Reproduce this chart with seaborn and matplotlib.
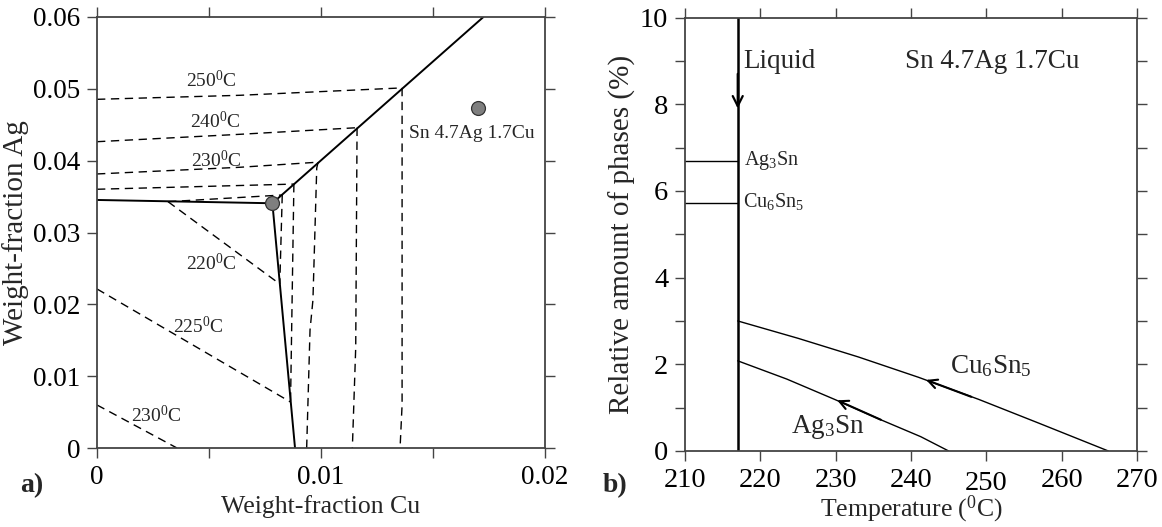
import matplotlib
matplotlib.use("Agg")
import matplotlib.pyplot as plt
import matplotlib.transforms as mtransforms
import seaborn as sns

# ---------------- Panel a: liquidus projection (weight fractions) ----------------
# phase-field boundaries
sn_ag3sn_cu = [0.0, 0.00783]
sn_ag3sn_ag = [0.03453, 0.03407]
sn_cu6sn5_cu = [0.00783, 0.00884]
sn_cu6sn5_ag = [0.03407, 0.0]
ag3sn_cu6sn5_cu = [0.00783, 0.01725]
ag3sn_cu6sn5_ag = [0.03407, 0.0600]

# isotherms in the Ag3Sn primary field
iso250_ag3sn_cu = [0.0, 0.00638, 0.01362]
iso250_ag3sn_ag = [0.04854, 0.04910, 0.05013]
iso240_ag3sn_cu = [0.0, 0.00638, 0.01161]
iso240_ag3sn_ag = [0.04264, 0.04367, 0.04459]
iso230_ag3sn_cu = [0.0, 0.00638, 0.00987]
iso230_ag3sn_ag = [0.03815, 0.03908, 0.03979]
iso225_ag3sn_cu = [0.0, 0.00879]
iso225_ag3sn_ag = [0.03602, 0.03674]
iso220_ag3sn_cu = [0.00317, 0.00827]
iso220_ag3sn_ag = [0.03429, 0.03522]

# isotherms in the Cu6Sn5 primary field
iso250_cu6sn5_cu = [0.01362, 0.01362, 0.01353]
iso250_cu6sn5_ag = [0.05013, 0.0060, 0.0]
iso240_cu6sn5_cu = [0.01161, 0.01155, 0.01140]
iso240_cu6sn5_ag = [0.04459, 0.0140, 0.0]
iso230_cu6sn5_cu = [0.00987, 0.00981, 0.00964, 0.00951, 0.00936]
iso230_cu6sn5_ag = [0.03979, 0.03898, 0.0206, 0.01643, 0.0]
iso225_cu6sn5_cu = [0.00879, 0.00864]
iso225_cu6sn5_ag = [0.03674, 0.0064]
iso220_cu6sn5_cu = [0.00827, 0.00816]
iso220_cu6sn5_ag = [0.03522, 0.02283]

# isotherms in the Sn primary field
iso220_sn_cu = [0.00317, 0.00816]
iso220_sn_ag = [0.03429, 0.02283]
iso225_sn_cu = [0.0, 0.00864]
iso225_sn_ag = [0.02214, 0.0064]
iso230_sn_cu = [0.0, 0.00357]
iso230_sn_ag = [0.00599, 0.0]

# points
eutectic_cu = [0.00783]
eutectic_ag = [0.03407]
alloy_cu = [0.0170]
alloy_ag = [0.0473]
alloy_label = "Sn 4.7Ag 1.7Cu"

# isotherm labels
iso_label_temps = ["250", "240", "230", "220", "225", "230"]
iso_label_cu = [0.00512, 0.00527, 0.00534, 0.00512, 0.00452, 0.00266]
iso_label_ag = [0.05021, 0.04451, 0.03916, 0.02478, 0.01597, 0.00366]

a_xticks = [0.0, 0.005, 0.01, 0.015, 0.02]
a_xticklabels = ["0", "", "0.01", "", "0.02"]
a_yticks = [0.0, 0.01, 0.02, 0.03, 0.04, 0.05, 0.06]
a_yticklabels = ["0", "0.01", "0.02", "0.03", "0.04", "0.05", "0.06"]

# ---------------- Panel b: phase amounts vs temperature ----------------
liquid_temp = [217, 217]
liquid_amt = [0.0, 10.0]
ag3sn_level_temp = [210, 217]
ag3sn_level_amt = [6.68, 6.68]
cu6sn5_level_temp = [210, 217]
cu6sn5_level_amt = [5.71, 5.71]
ag3sn_temp = [217, 223.5, 230, 236, 241.3, 245.0]
ag3sn_amt = [2.08, 1.66, 1.18, 0.72, 0.33, 0.0]
cu6sn5_temp = [217, 225, 233, 241, 249, 257, 266.2]
cu6sn5_amt = [3.0, 2.6, 2.17, 1.70, 1.19, 0.64, 0.0]

b_xticks = [210, 220, 230, 240, 250, 260, 270]
b_yticks = list(range(0, 11))
b_yticklabels = ["0", "", "2", "", "4", "", "6", "", "8", "", "10"]

# ---------------- style ----------------
sns.set_theme(style="ticks")
plt.rcParams["font.family"] = ["Liberation Serif", "DejaVu Serif"]
plt.rcParams["mathtext.fontset"] = "custom"
plt.rcParams["mathtext.rm"] = "Liberation Serif"
plt.rcParams["mathtext.it"] = "Liberation Serif:italic"
plt.rcParams["mathtext.bf"] = "Liberation Serif:bold"

DASH = (0, (6, 4))

fig = plt.figure(figsize=(11.62, 5.27), dpi=100)
axa = fig.add_axes([97 / 1162, 1 - 448 / 527, (545 - 97) / 1162, (448 - 17) / 527])
axb = fig.add_axes([685 / 1162, 1 - 451 / 527, (1137 - 685) / 1162, (451 - 17.5) / 527])


def line(ax, x, y, dashed=False, lw=1.3):
    sns.lineplot(x=x, y=y, ax=ax, sort=False, estimator=None, color="black",
                 lw=lw, linestyle=DASH if dashed else "-")


# panel a lines
for cx, cy in [(sn_ag3sn_cu, sn_ag3sn_ag), (sn_cu6sn5_cu, sn_cu6sn5_ag),
               (ag3sn_cu6sn5_cu, ag3sn_cu6sn5_ag)]:
    line(axa, cx, cy, lw=1.4)

for cx, cy in [(iso250_ag3sn_cu, iso250_ag3sn_ag), (iso240_ag3sn_cu, iso240_ag3sn_ag),
               (iso230_ag3sn_cu, iso230_ag3sn_ag), (iso225_ag3sn_cu, iso225_ag3sn_ag),
               (iso220_ag3sn_cu, iso220_ag3sn_ag),
               (iso250_cu6sn5_cu, iso250_cu6sn5_ag), (iso240_cu6sn5_cu, iso240_cu6sn5_ag),
               (iso230_cu6sn5_cu, iso230_cu6sn5_ag), (iso225_cu6sn5_cu, iso225_cu6sn5_ag),
               (iso220_cu6sn5_cu, iso220_cu6sn5_ag),
               (iso220_sn_cu, iso220_sn_ag), (iso225_sn_cu, iso225_sn_ag),
               (iso230_sn_cu, iso230_sn_ag)]:
    line(axa, cx, cy, dashed=True, lw=1.0)

sns.scatterplot(x=eutectic_cu + alloy_cu, y=eutectic_ag + alloy_ag, ax=axa, s=100,
                color="#7f7f7f", edgecolor="#333333", linewidth=0.9, zorder=5, clip_on=False)

axa.text(0.01393, 0.0432, alloy_label, fontsize=14, ha="left", va="baseline")
for t, cx, cy in zip(iso_label_temps, iso_label_cu, iso_label_ag):
    axa.text(cx, cy, t + r"$^{0}$C", fontsize=14, ha="center", va="baseline")

axa.set_xlim(0, 0.02)
axa.set_ylim(0, 0.06)
axa.set_xticks(a_xticks)
axa.set_xticklabels(a_xticklabels)
axa.set_yticks(a_yticks)
axa.set_yticklabels(a_yticklabels)
axa.set_xlabel("Weight-fraction Cu", fontsize=18.5)
axa.set_ylabel("Weight-fraction Ag", fontsize=21, labelpad=3)
axa.xaxis.set_label_coords(0.5, -0.108)

# panel b lines
line(axb, liquid_temp, liquid_amt, lw=1.8)
line(axb, ag3sn_level_temp, ag3sn_level_amt, lw=1.0)
line(axb, cu6sn5_level_temp, cu6sn5_level_amt, lw=1.0)
line(axb, ag3sn_temp, ag3sn_amt, lw=1.0)
line(axb, cu6sn5_temp, cu6sn5_amt, lw=1.0)

axb.annotate("", xy=(217, 7.9), xytext=(217, 8.7),
             arrowprops=dict(arrowstyle="->", lw=1.6, color="black", mutation_scale=18,
                             shrinkA=0, shrinkB=0))
axb.annotate("", xy=(242.0, 1.64), xytext=(248.0, 1.25),
             arrowprops=dict(arrowstyle="->", lw=1.5, color="black", mutation_scale=16,
                             shrinkA=0, shrinkB=0))
axb.annotate("", xy=(230.2, 1.17), xytext=(236.0, 0.72),
             arrowprops=dict(arrowstyle="->", lw=1.5, color="black", mutation_scale=16,
                             shrinkA=0, shrinkB=0))

axb.text(217.8, 8.83, "Liquid", fontsize=19.5, ha="left", va="baseline")
axb.text(239.2, 8.83, "Sn 4.7Ag 1.7Cu", fontsize=19.5, ha="left", va="baseline")
axb.text(217.8, 6.6, r"Ag$_3$Sn", fontsize=14.5, ha="left", va="baseline")
axb.text(217.7, 5.62, r"Cu$_6$Sn$_5$", fontsize=14.5, ha="left", va="baseline")
axb.text(250.6, 1.8, r"Cu$_6$Sn$_5$", fontsize=19.5, ha="center", va="baseline")
axb.text(229.0, 0.42, r"Ag$_3$Sn", fontsize=19.5, ha="center", va="baseline")

axb.set_xlim(210, 270)
axb.set_ylim(0, 10)
axb.set_xticks(b_xticks)
axb.set_yticks(b_yticks)
axb.set_yticklabels(b_yticklabels)
axb.set_xlabel(r"Temperature ($^{0}$C)", fontsize=18.5)
axb.set_ylabel("Relative amount of phases (%)", fontsize=21, labelpad=3)
axb.xaxis.set_label_coords(0.5, -0.098)

for ax, fs in ((axa, 19.5), (axb, 20.5)):
    ax.tick_params(which="both", direction="out", top=True, right=True, length=7,
                   width=1.0, color="#444444", labelsize=fs, pad=5,
                   labelcolor="black")
    for sp in ax.spines.values():
        sp.set_color("#444444")
        sp.set_linewidth(1.3)
    ax.set_facecolor("white")

# the "250" temperature label sits a little lower in the original
for lbl in axb.get_xticklabels():
    if lbl.get_text() == "250":
        lbl.set_transform(lbl.get_transform() +
                          mtransforms.ScaledTranslation(0, -3.5 / 100, fig.dpi_scale_trans))

fig.text(20 / 1162, 1 - 492 / 527, "a)", fontsize=20, fontweight="bold", va="baseline")
fig.text(603 / 1162, 1 - 492 / 527, "b)", fontsize=20, fontweight="bold", va="baseline")

fig.savefig("out.png", dpi=100, facecolor="white")
